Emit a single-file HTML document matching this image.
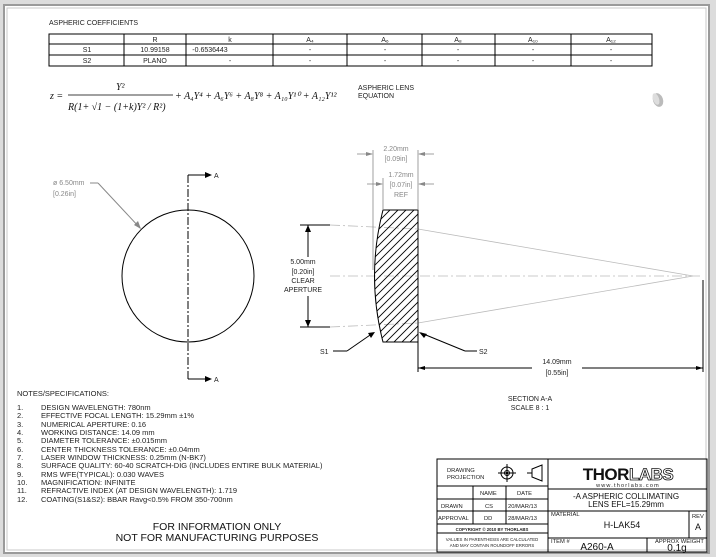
<!DOCTYPE html>
<html><head><meta charset="utf-8"><style>
body{margin:0;width:716px;height:557px;background:#e8e8e8;overflow:hidden}
svg{display:block}
text{font-family:"Liberation Sans",sans-serif}
.s{font-size:7px;fill:#222}
.t{font-size:5.8px;fill:#222}
.g{font-size:7px;fill:#888}
.m{font-family:"Liberation Serif",serif;font-style:italic;font-size:10px;fill:#111}
</style></head><body>
<svg width="716" height="557" viewBox="0 0 716 557">
<rect x="0" y="0" width="716" height="557" fill="#dcdcdc"/>
<rect x="4" y="5" width="705" height="548" fill="#fff" stroke="#9a9a9a" stroke-width="2"/>
<rect x="7" y="8" width="699" height="542" fill="none" stroke="#c8c8c8" stroke-width="1"/>

<text x="49" y="25" class="s">ASPHERIC COEFFICIENTS</text>
<g stroke="#000" stroke-width="1" fill="none">
<rect x="49" y="34" width="603" height="32"/>
<line x1="49" y1="44" x2="652" y2="44"/><line x1="49" y1="55" x2="652" y2="55"/>
<line x1="124" y1="34" x2="124" y2="66"/><line x1="186" y1="34" x2="186" y2="66"/>
<line x1="273" y1="34" x2="273" y2="66"/><line x1="347" y1="34" x2="347" y2="66"/>
<line x1="422" y1="34" x2="422" y2="66"/><line x1="495" y1="34" x2="495" y2="66"/>
<line x1="571" y1="34" x2="571" y2="66"/>
</g>
<g class="s" text-anchor="middle">
<text x="155" y="42">R</text><text x="230" y="42">k</text>
<text x="310" y="42">A₄</text><text x="385" y="42">A₆</text><text x="458" y="42">A₈</text><text x="533" y="42">A₁₀</text><text x="611" y="42">A₁₂</text>
<text x="87" y="52">S1</text><text x="155" y="52">10.99158</text><text x="210" y="52">-0.6536443</text>
<text x="310" y="52">-</text><text x="385" y="52">-</text><text x="458" y="52">-</text><text x="533" y="52">-</text><text x="611" y="52">-</text>
<text x="87" y="63">S2</text><text x="155" y="63">PLANO</text><text x="230" y="63">-</text>
<text x="310" y="63">-</text><text x="385" y="63">-</text><text x="458" y="63">-</text><text x="533" y="63">-</text><text x="611" y="63">-</text>
</g>

<text x="50" y="99" class="m">z =</text>
<text x="116" y="90" class="m">Y²</text>
<line x1="68" y1="95" x2="173" y2="95" stroke="#000" stroke-width="0.8"/>
<text x="68" y="110" class="m">R(1+ √1 − (1+k)Y² / R²)</text>
<text x="175" y="99" class="m">+ A₄Y⁴ + A₆Y⁶ + A₈Y⁸ + A₁₀Y¹⁰ + A₁₂Y¹²</text>
<text x="358" y="90" class="s">ASPHERIC LENS</text>
<text x="358" y="98" class="s">EQUATION</text>
<ellipse cx="658" cy="100" rx="5" ry="7" fill="#bbb" transform="rotate(-20 658 100)"/>
<ellipse cx="656" cy="99" rx="3" ry="6" fill="#ddd" transform="rotate(-20 656 99)"/>

<circle cx="188" cy="276" r="66" fill="none" stroke="#000" stroke-width="1"/>
<line x1="188" y1="175" x2="188" y2="379" stroke="#000" stroke-width="1" stroke-dasharray="8 2 2 2"/>
<line x1="188" y1="175" x2="208" y2="175" stroke="#000"/>
<polygon points="205,172 212,175 205,178" fill="#000"/>
<line x1="188" y1="379" x2="208" y2="379" stroke="#000"/>
<polygon points="205,376 212,379 205,382" fill="#000"/>
<text x="214" y="178" class="s">A</text><text x="214" y="382" class="s">A</text>
<text x="53" y="185" class="g">ø 6.50mm</text><text x="53" y="196" class="g">[0.26in]</text>
<line x1="90" y1="183" x2="98" y2="183" stroke="#888"/>
<line x1="98" y1="183" x2="140" y2="228" stroke="#888"/>
<polygon points="141,229 134,225 138,221" fill="#888"/>

<g stroke="#bbb" stroke-width="0.8" fill="none">
<line x1="330" y1="276" x2="703" y2="276" stroke-dasharray="10 3 2 3"/>
<line x1="330" y1="225" x2="418" y2="229" stroke-dasharray="10 3 2 3"/>
<line x1="330" y1="327" x2="418" y2="323" stroke-dasharray="10 3 2 3"/>
<line x1="418" y1="229" x2="693" y2="276"/>
<line x1="418" y1="323" x2="693" y2="276"/>
</g>
<defs><pattern id="h" width="8" height="8" patternUnits="userSpaceOnUse"><path d="M0 8 L8 0 M-2 2 L2 -2 M6 10 L10 6" stroke="#000" stroke-width="0.9"/></pattern></defs>
<path d="M383 210 L418 210 L418 342 L383 342 Q366 276 383 210 Z" fill="url(#h)" stroke="#000" stroke-width="1"/>
<g stroke="#888" stroke-width="0.8">
<line x1="373" y1="150" x2="373" y2="270"/><line x1="418" y1="150" x2="418" y2="210"/>
<line x1="383" y1="178" x2="383" y2="210"/>
<line x1="357" y1="154" x2="372" y2="154"/><line x1="419" y1="154" x2="434" y2="154"/>
<line x1="367" y1="184" x2="382" y2="184"/><line x1="419" y1="184" x2="434" y2="184"/>
</g>
<g fill="#888">
<polygon points="373,154 366,152 366,156"/><polygon points="418,154 425,152 425,156"/>
<polygon points="383,184 376,182 376,186"/><polygon points="418,184 425,182 425,186"/>
</g>
<g class="g" text-anchor="middle">
<text x="396" y="151">2.20mm</text><text x="396" y="161">[0.09in]</text>
<text x="401" y="177">1.72mm</text><text x="401" y="187">[0.07in]</text><text x="401" y="197">REF</text>
</g>
<g stroke="#000" stroke-width="1">
<line x1="300" y1="225" x2="330" y2="225"/><line x1="300" y1="327" x2="330" y2="327"/>
<line x1="308" y1="225" x2="308" y2="257"/><line x1="308" y1="296" x2="308" y2="327"/>
<line x1="418" y1="342" x2="418" y2="372"/><line x1="703" y1="280" x2="703" y2="372"/>
<line x1="418" y1="368" x2="532" y2="368"/><line x1="582" y1="368" x2="703" y2="368"/>
<line x1="333" y1="351" x2="347" y2="351"/><line x1="347" y1="351" x2="373" y2="333"/>
<line x1="465" y1="351" x2="477" y2="351"/><line x1="465" y1="351" x2="421" y2="333"/>
</g>
<g fill="#000">
<polygon points="308,225 305,232 311,232"/><polygon points="308,327 305,320 311,320"/>
<polygon points="418,368 425,366 425,370"/><polygon points="703,368 696,366 696,370"/>
<polygon points="375,332 368,333 371,338"/><polygon points="419,332 424,338 427,334"/>
</g>
<g class="s" text-anchor="middle">
<text x="303" y="264">5.00mm</text><text x="303" y="274">[0.20in]</text>
<text x="303" y="283">CLEAR</text><text x="303" y="292">APERTURE</text>
<text x="557" y="364">14.09mm</text><text x="557" y="375">[0.55in]</text>
<text x="530" y="401">SECTION A-A</text><text x="530" y="410">SCALE 8 : 1</text>
</g>
<text x="320" y="354" class="s">S1</text><text x="479" y="354" class="s">S2</text>

<g style="font-size:7.5px;fill:#222">
<text x="17" y="396">NOTES/SPECIFICATIONS:</text>
<text x="17" y="410">1.</text><text x="41" y="410">DESIGN WAVELENGTH: 780nm</text>
<text x="17" y="418">2.</text><text x="41" y="418">EFFECTIVE FOCAL LENGTH: 15.29mm ±1%</text>
<text x="17" y="427">3.</text><text x="41" y="427">NUMERICAL APERTURE: 0.16</text>
<text x="17" y="435">4.</text><text x="41" y="435">WORKING DISTANCE: 14.09 mm</text>
<text x="17" y="443">5.</text><text x="41" y="443">DIAMETER TOLERANCE: ±0.015mm</text>
<text x="17" y="452">6.</text><text x="41" y="452">CENTER THICKNESS TOLERANCE:  ±0.04mm</text>
<text x="17" y="460">7.</text><text x="41" y="460">LASER WINDOW THICKNESS: 0.25mm (N-BK7)</text>
<text x="17" y="468">8.</text><text x="41" y="468">SURFACE QUALITY: 60-40 SCRATCH-DIG (INCLUDES ENTIRE BULK MATERIAL)</text>
<text x="17" y="477">9.</text><text x="41" y="477">RMS WFE(TYPICAL): 0.030 WAVES</text>
<text x="17" y="485">10.</text><text x="41" y="485">MAGNIFICATION: INFINITE</text>
<text x="17" y="493">11.</text><text x="41" y="493">REFRACTIVE INDEX (AT DESIGN WAVELENGTH): 1.719</text>
<text x="17" y="502">12.</text><text x="41" y="502">COATING(S1&amp;S2): BBAR Ravg&lt;0.5% FROM 350-700nm</text>
</g>
<g text-anchor="middle" style="font-size:10.5px;fill:#111">
<text x="217" y="530">FOR INFORMATION ONLY</text>
<text x="217" y="541">NOT FOR MANUFACTURING PURPOSES</text>
</g>

<g stroke="#000" stroke-width="1" fill="none">
<rect x="437" y="459" width="270" height="93"/>
<line x1="548" y1="459" x2="548" y2="552"/>
<line x1="437" y1="486" x2="548" y2="486"/><line x1="437" y1="499" x2="548" y2="499"/>
<line x1="437" y1="511" x2="548" y2="511"/><line x1="437" y1="524" x2="548" y2="524"/>
<line x1="437" y1="533" x2="548" y2="533"/>
<line x1="473" y1="486" x2="473" y2="524"/><line x1="506" y1="486" x2="506" y2="524"/>
<line x1="548" y1="489" x2="707" y2="489"/><line x1="548" y1="511" x2="707" y2="511"/>
<line x1="548" y1="538" x2="707" y2="538"/>
<line x1="689" y1="511" x2="689" y2="538"/><line x1="647" y1="538" x2="647" y2="552"/>
<circle cx="507" cy="473" r="6"/><circle cx="507" cy="473" r="2.5"/>
<line x1="498" y1="473" x2="516" y2="473"/><line x1="507" y1="464" x2="507" y2="482"/>
<path d="M527 473 L532 473 M532 469 L542 465 L542 481 L532 477 Z"/>
</g>
<circle cx="507" cy="473" r="1.3" fill="#000"/>
<g class="t">
<text x="447" y="472">DRAWING</text><text x="447" y="479">PROJECTION</text>
<text x="480" y="495">NAME</text><text x="517" y="495">DATE</text>
<text x="441" y="508">DRAWN</text><text x="485" y="508">CS</text><text x="508" y="508">20/MAR/13</text>
<text x="438" y="520">APPROVAL</text><text x="484" y="520">DD</text><text x="508" y="520">28/MAR/13</text>
<text x="492" y="531" text-anchor="middle" style="font-size:4.3px;font-weight:bold">COPYRIGHT © 2010 BY THORLABS</text>
<text x="492" y="541" text-anchor="middle" style="font-size:4.3px">VALUES IN PARENTHESIS ARE CALCULATED</text>
<text x="492" y="547" text-anchor="middle" style="font-size:4.3px">AND MAY CONTAIN ROUNDOFF ERRORS</text>
<text x="551" y="516">MATERIAL</text><text x="692" y="518">REV</text>
<text x="551" y="543">ITEM #</text><text x="655" y="543">APPROX WEIGHT</text>
</g>
<text x="628" y="480" text-anchor="middle" style="font-size:17px;font-weight:bold;fill:#111;letter-spacing:-0.5px">THOR<tspan fill="#fff" stroke="#111" stroke-width="0.8">LABS</tspan></text>
<text x="628" y="487" text-anchor="middle" style="font-size:5.5px;fill:#222;letter-spacing:1.2px">www.thorlabs.com</text>
<g text-anchor="middle" style="fill:#111;font-size:8px">
<text x="626" y="499">-A ASPHERIC COLLIMATING</text>
<text x="626" y="507">LENS    EFL=15.29mm</text>
<text x="622" y="528" style="font-size:9px">H-LAK54</text>
<text x="698" y="530" style="font-size:9px">A</text>
<text x="597" y="550" style="font-size:10px">A260-A</text>
<text x="677" y="551" style="font-size:10px">0.1g</text>
</g>
</svg>
</body></html>
